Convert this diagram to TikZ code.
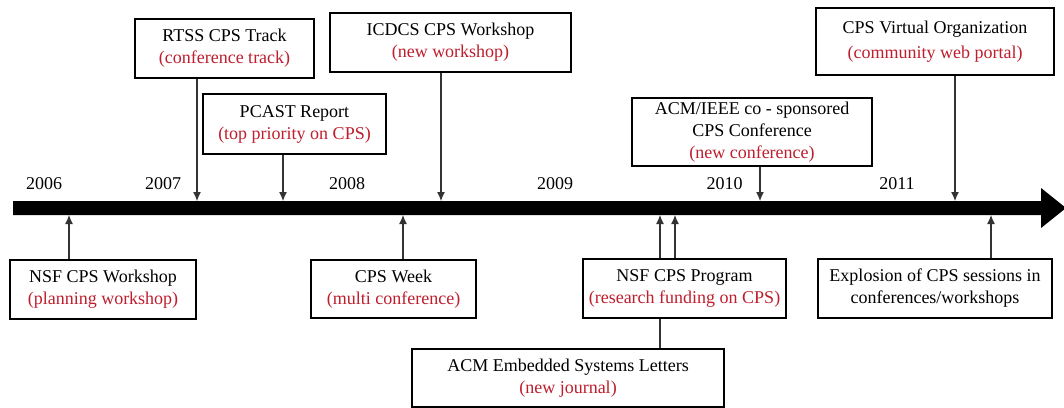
\documentclass[tikz,border=0pt]{standalone}
\usepackage{fontspec}
\setmainfont{Liberation Serif}
\usetikzlibrary{arrows.meta}
\definecolor{evred}{RGB}{190,30,45}
\begin{document}
\begin{tikzpicture}[x=1pt,y=-1pt,
  box/.style={draw, line width=1.1pt, fill=white, inner sep=0pt, align=center,
    font=\fontsize{18}{22}\selectfont},
  yr/.style={font=\fontsize{18}{22}\selectfont, inner sep=0pt},
  conn/.style={line width=1.1pt, draw=black!80},
  arr/.style={conn, -{Latex[length=9pt,width=8pt]}}]
\useasboundingbox (0,0) rectangle (1064,407);
% timeline bar
\fill[black] (13,201) -- (1041,201) -- (1041,188) -- (1066,208) -- (1041,228) -- (1041,215) -- (13,215) -- cycle;
% years
\node[yr] (y2006) at (44,184) {2006};
\node[yr] (y2007) at (163,184) {2007};
\node[yr] (y2008) at (347,184) {2008};
\node[yr] (y2009) at (555,184) {2009};
\node[yr] (y2010) at (724.5,184) {2010};
\node[yr] (y2011) at (897,184) {2011};
% top boxes
\node[box, minimum width=179pt, minimum height=59pt] (rtss) at (224.5,48.5) {RTSS CPS Track\\\textcolor{evred}{(conference track)}};
\node[box, minimum width=241pt, minimum height=59pt] (icdcs) at (450.5,42.5) {ICDCS CPS Workshop\\\textcolor{evred}{(new workshop)}};
\node[box, minimum width=183pt, minimum height=60pt] (pcast) at (294.5,124) {PCAST Report\\\textcolor{evred}{(top priority on CPS)}};
\node[box, minimum width=240pt, minimum height=68pt] (acm) at (752,132) {ACM/IEEE co - sponsored\\CPS Conference\\\textcolor{evred}{(new conference)}};
\node[box, minimum width=238pt, minimum height=67pt, font=\fontsize{18}{25}\selectfont] (cpsvo) at (935,41.5) {CPS Virtual Organization\\\textcolor{evred}{(community web portal)}};
% bottom boxes
\node[box, minimum width=186pt, minimum height=59pt] (nsfw) at (103,289.5) {NSF CPS Workshop\\\textcolor{evred}{(planning workshop)}};
\node[box, minimum width=165pt, minimum height=58pt] (week) at (393.5,289) {CPS Week\\\textcolor{evred}{(multi conference)}};
\node[box, minimum width=203pt, minimum height=59pt] (nsfp) at (684.5,288.5) {NSF CPS Program\\\textcolor{evred}{(research funding on CPS)}};
\node[box, minimum width=312pt, minimum height=58pt] (emb) at (568,378) {ACM Embedded Systems Letters\\\textcolor{evred}{(new journal)}};
\node[box, minimum width=234pt, minimum height=59pt] (expl) at (935,288.5) {Explosion of CPS sessions in\\conferences/workshops};
% anchor points on the bar
\coordinate (t1) at (197,201);
\coordinate (t2) at (283,201);
\coordinate (t3) at (441,201);
\coordinate (t4) at (760,201);
\coordinate (t5) at (955,201);
\coordinate (b1) at (69,215);
\coordinate (b2) at (403,215);
\coordinate (b3) at (660,215);
\coordinate (b4) at (675,215);
\coordinate (b5) at (991,215);
% connectors
\draw[arr] (rtss.south -| t1) -- (t1);
\draw[arr] (pcast.south -| t2) -- (t2);
\draw[arr] (icdcs.south -| t3) -- (t3);
\draw[arr] (acm.south -| t4) -- (t4);
\draw[arr] (cpsvo.south -| t5) -- (t5);
\draw[arr] (nsfw.north -| b1) -- (b1);
\draw[arr] (week.north -| b2) -- (b2);
\draw[arr] (nsfp.north -| b3) -- (b3);
\draw[arr] (nsfp.north -| b4) -- (b4);
\draw[conn] (emb.north -| b3) -- (nsfp.south -| b3);
\draw[arr] (expl.north -| b5) -- (b5);
\end{tikzpicture}
\end{document}
